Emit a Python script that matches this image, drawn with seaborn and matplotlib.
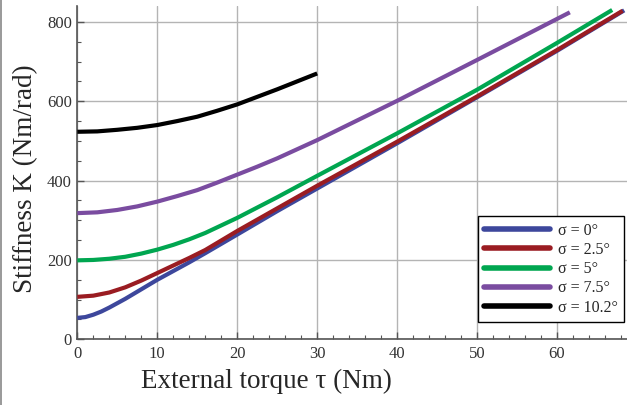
import matplotlib
matplotlib.use("Agg")
import matplotlib.pyplot as plt
from matplotlib.lines import Line2D
from matplotlib.ticker import MultipleLocator
import pandas as pd
import seaborn as sns

# values
TAU_BLUE = [0, 1, 2, 3, 4, 6, 8, 10, 12, 14, 16, 20, 25, 30, 40, 50, 60, 68.4]
K_BLUE = [54, 56, 62, 70, 80, 102, 126, 150, 172, 194, 217, 264, 323, 380, 494, 610, 727, 829]

TAU_RED = [0, 2, 4, 6, 8, 10, 12, 14, 16, 20, 25, 30, 40, 50, 60, 68.2]
K_RED = [107, 110, 118, 131, 148, 167, 186, 205, 225, 273, 330, 387, 498, 612, 729, 828]

TAU_GREEN = [0, 2, 4, 6, 8, 10, 12, 14, 16, 20, 25, 30, 40, 50, 60, 66.9]
K_GREEN = [199, 200, 203, 208, 216, 226, 238, 252, 268, 306, 358, 412, 519, 629, 747, 830]

TAU_PURPLE = [0, 2.5, 5, 7.5, 10, 12.5, 15, 17.5, 20, 22.5, 25, 30, 40, 50, 61.6]
K_PURPLE = [318, 320, 326, 335, 347, 361, 376, 395, 415, 435, 456, 502, 601, 704, 824]

TAU_BLACK = [0, 2.5, 5, 7.5, 10, 12.5, 15, 17.5, 20, 22.5, 25, 27.5, 30]
K_BLACK = [523, 524, 528, 533, 540, 550, 561, 576, 592, 611, 630, 650, 670]

LABELS = ["σ = 0°", "σ = 2.5°", "σ = 5°", "σ = 7.5°", "σ = 10.2°"]
COLORS = ["#3d479c", "#9a1c22", "#00a650", "#7a4ca0", "#000000"]

series = [(TAU_BLUE, K_BLUE), (TAU_RED, K_RED), (TAU_GREEN, K_GREEN),
          (TAU_PURPLE, K_PURPLE), (TAU_BLACK, K_BLACK)]

frames = []
for label, (tau, k) in zip(LABELS, series):
    frames.append(pd.DataFrame({"tau": tau, "K": k, "sigma": label}))
df = pd.concat(frames, ignore_index=True)

sns.set_style("ticks")
plt.rcParams["font.family"] = ["Liberation Serif", "DejaVu Serif"]

fig = plt.figure(figsize=(6.27, 4.05), dpi=100)
ax = fig.add_axes([0.1233, 0.1622, 0.8767, 0.823])

sns.lineplot(data=df, x="tau", y="K", hue="sigma", hue_order=LABELS,
             palette=dict(zip(LABELS, COLORS)), linewidth=3, sort=False,
             estimator=None, ax=ax, legend=False, zorder=3)
for line in ax.lines:
    line.set_solid_capstyle("butt")
    line.set_solid_joinstyle("round")

ax.set_xlim(0, 68.75)
ax.set_ylim(0, 840)
ax.xaxis.set_major_locator(MultipleLocator(10))
ax.xaxis.set_minor_locator(MultipleLocator(2))
ax.yaxis.set_major_locator(MultipleLocator(200))
ax.yaxis.set_minor_locator(MultipleLocator(50))
ax.grid(True, which="major", color="#b4b4b4", linewidth=1.0)
ax.set_axisbelow(True)

for side in ["top", "right"]:
    ax.spines[side].set_visible(False)
for side in ["left", "bottom"]:
    ax.spines[side].set_color("#555555")
    ax.spines[side].set_linewidth(1.2)

ax.tick_params(which="both", direction="in", color="#555555", labelcolor="#333333",
               labelsize=12)
ax.tick_params(which="major", length=5, width=1)
ax.tick_params(which="minor", length=3, width=0.8)
ax.tick_params(axis="y", pad=4)
ax.tick_params(axis="x", pad=5)

ax.set_xlabel("External torque τ (Nm)", fontsize=19.5)
ax.set_ylabel("Stiffness K (Nm/rad)", fontsize=19.5)
# the reference centres its axis titles off the axes middle
ax.xaxis.set_label_coords(0.344, -0.09, transform=ax.transAxes)
ax.xaxis.label.set_va("top")
ax.yaxis.set_label_coords(-0.072, 0.481, transform=ax.transAxes)

handles = [Line2D([], [], color=c, linewidth=4) for c in COLORS]
leg = ax.legend(handles, LABELS, loc="lower right", bbox_to_anchor=(0.995, 0.205),
                bbox_transform=fig.transFigure, fontsize=11.5, frameon=True,
                fancybox=False, framealpha=1, edgecolor="black",
                handlelength=4.1, handletextpad=0.5, labelspacing=0.2,
                borderpad=0.4, borderaxespad=0)
leg.get_frame().set_linewidth(1.0)

# thin grey border at left edge of the figure
fig.add_artist(Line2D([0.002, 0.002], [0, 1], color="#888888", linewidth=1.2))

fig.savefig("out.png", dpi=100)
